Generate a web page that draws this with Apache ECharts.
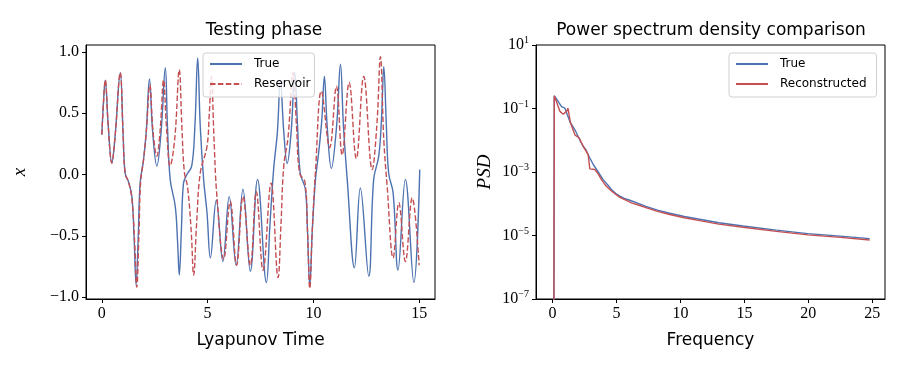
<!DOCTYPE html>
<html>
<head>
<meta charset="utf-8">
<script src="https://cdn.jsdelivr.net/npm/echarts@6.0.0/dist/echarts.min.js"></script>
<style>
  html, body { margin: 0; padding: 0; background: #fff; }
  #chart { width: 897px; height: 365px; }
</style>
</head>
<body>
<div id="chart"></div>
<script>
// left panel: x(t) in Lyapunov times
const trueSeries = [
  [0, 0.325], [0.08, 0.6], [0.16, 0.77], [0.3, 0.4], [0.47, 0.094], [0.62, 0.3], [0.87, 0.83],
  [1.0, 0.35], [1.1, 0.01], [1.26, -0.06], [1.42, -0.18], [1.52, -0.5], [1.62, -0.9], [1.72, -0.5],
  [1.81, -0.07], [1.97, 0.12], [2.1, 0.35], [2.25, 0.78], [2.4, 0.35], [2.6, 0.07], [2.8, 0.35],
  [3.0, 0.87], [3.1, 0.4], [3.23, -0.04], [3.47, -0.26], [3.58, -0.55], [3.66, -0.82], [3.76, -0.45],
  [3.86, -0.07], [4.02, 0], [4.25, 0.07], [4.4, 0.4], [4.53, 0.95], [4.65, 0.4], [4.81, -0.04],
  [4.97, -0.31], [5.13, -0.68], [5.41, -0.21], [5.72, -0.71], [6.02, -0.18], [6.35, -0.74],
  [6.67, -0.12], [7.02, -0.79], [7.36, -0.04], [7.78, -0.88], [7.95, -0.4], [8.12, 0.04],
  [8.3, 0.35], [8.44, 0.77], [8.6, 0.35], [8.76, 0.09], [8.95, 0.35], [9.12, 0.83], [9.25, 0.4],
  [9.38, 0.01], [9.62, -0.12], [9.72, -0.45], [9.83, -0.91], [9.95, -0.45], [10.1, -0.04],
  [10.25, 0.18], [10.4, 0.45], [10.52, 0.8], [10.65, 0.4], [10.85, 0.05], [11.1, 0.4], [11.28, 0.9],
  [11.42, 0.4], [11.6, -0.04], [11.94, -0.76], [12.22, -0.11], [12.62, -0.83], [12.85, -0.04],
  [13.09, 0.15], [13.22, 0.45], [13.33, 0.88], [13.45, 0.4], [13.56, 0.01], [13.77, -0.15],
  [14.0, -0.78], [14.35, -0.04], [14.75, -0.88], [15.03, 0.04]
];
const reservoirSeries = [
  [0, 0.325], [0.08, 0.6], [0.16, 0.77], [0.3, 0.4], [0.47, 0.094], [0.62, 0.3], [0.87, 0.83],
  [1.0, 0.35], [1.1, 0.01], [1.26, -0.06], [1.42, -0.2], [1.55, -0.55], [1.65, -0.92], [1.75, -0.5],
  [1.83, -0.07], [1.97, 0.12], [2.1, 0.35], [2.27, 0.73], [2.42, 0.35], [2.6, 0.15], [2.75, 0.35],
  [2.92, 0.77], [3.05, 0.4], [3.23, 0.07], [3.45, 0.3], [3.66, 0.855], [3.78, 0.4], [3.9, 0.02],
  [4.05, -0.1], [4.22, -0.45], [4.34, -0.82], [4.48, -0.4], [4.65, 0.01], [4.97, 0.23], [5.08, 0.5],
  [5.18, 0.8], [5.3, 0.3], [5.44, -0.18], [5.76, -0.69], [6.07, -0.22], [6.37, -0.74], [6.67, -0.18],
  [7.02, -0.74], [7.3, -0.14], [7.62, -0.78], [8.0, -0.07], [8.33, -0.84], [8.47, -0.4], [8.6, 0.07],
  [8.8, 0.3], [9.04, 0.83], [9.2, 0.4], [9.35, 0.01], [9.6, -0.06], [9.72, -0.45], [9.83, -0.93],
  [9.95, -0.45], [10.1, 0.03], [10.38, 0.68], [10.77, 0.22], [11.09, 0.72], [11.36, 0.16],
  [11.69, 0.75], [12.03, 0.13], [12.38, 0.8], [12.78, 0.04], [13.0, 0.4], [13.17, 0.96], [13.33, 0.28],
  [13.49, -0.1], [13.77, -0.68], [14.04, -0.23], [14.35, -0.71], [14.67, -0.19], [15.0, -0.74]
];
const timeTicks = [0, 5, 10, 15];
const xTicks = [-1, -0.5, 0, 0.5, 1];

// right panel: [frequency, log10(PSD)]
const psdTrue = [
  [0, -30], [0.13, -0.6], [0.18, -0.57], [0.3, -0.7], [0.44, -0.78], [0.55, -0.8], [0.7, -0.94],
  [0.83, -0.96], [0.96, -0.99], [1.15, -1.2], [1.35, -1.41], [1.45, -1.38], [1.74, -1.67],
  [2.0, -1.88], [2.2, -2.05], [2.39, -2.19], [2.6, -2.3], [2.91, -2.56], [3.2, -2.78], [3.44, -2.92],
  [3.7, -3.08], [3.95, -3.24], [4.3, -3.4], [4.6, -3.55], [5.0, -3.7], [5.26, -3.76], [5.6, -3.83],
  [6.04, -3.89], [6.7, -3.99], [7.3, -4.08], [8.2, -4.2], [9.16, -4.3], [10.3, -4.4], [11.5, -4.49],
  [13.0, -4.6], [14.9, -4.7], [17.5, -4.83], [19.97, -4.94], [22.5, -5.02], [24.8, -5.1]
];
const psdReconstructed = [
  [0, -30], [0.13, -0.6], [0.18, -0.6], [0.4, -0.9], [0.57, -1.09], [0.83, -1.18], [1.09, -1.09],
  [1.2, -0.99], [1.4, -1.46], [1.74, -1.83], [2.08, -1.93], [2.39, -2.19], [2.78, -2.45], [2.91, -2.9],
  [3.3, -2.92], [3.55, -3.05], [3.82, -3.24], [4.2, -3.45], [4.6, -3.6], [5.26, -3.8], [5.6, -3.86],
  [6.17, -3.97], [6.7, -4.04], [7.3, -4.12], [8.2, -4.24], [9.16, -4.34], [10.3, -4.44],
  [11.5, -4.53], [13.0, -4.64], [14.9, -4.74], [17.5, -4.87], [19.97, -4.98], [22.5, -5.06],
  [24.8, -5.14]
];
const freqTicks = [0, 5, 10, 15, 20, 25];
const psdTicks = [-7, -5, -3, -1, 1];

const BLUE = '#4c72b0';
const RED = '#c44e52';
const SERIF = 'Liberation Serif';
const SANS = 'DejaVu Sans';

const fmtNum = (v) => (v < 0 ? '\u2212' : '') + Math.abs(v).toFixed(1);
const fmtPow = (v) => '{b|10}{s|' + (v < 0 ? '\u2212' : '') + Math.abs(v) + '}';

const axisBase = {
  axisLine: { show: true, onZero: false, lineStyle: { color: '#000', width: 1 } },
  axisTick: { show: true, inside: false, length: 4, lineStyle: { color: '#000', width: 1 } },
  splitLine: { show: false }
};

const legendBox = {
  orient: 'vertical',
  backgroundColor: 'rgba(255,255,255,0.8)',
  borderColor: '#d0d0d0',
  borderWidth: 1,
  borderRadius: 3,
  padding: [5, 4, 7, 6],
  itemGap: 8,
  itemWidth: 32,
  itemHeight: 10,
  itemStyle: { opacity: 0 },
  textStyle: { fontFamily: SANS, fontSize: 12, color: '#000', padding: [0, 0, 0, 7] }
};

const chart = echarts.init(document.getElementById('chart'), null, { renderer: 'canvas' });

chart.setOption({
  animation: false,
  backgroundColor: '#fff',
  title: [
    { text: 'Testing phase', left: 259, top: 17, textAlign: 'center',
      textStyle: { fontFamily: SANS, fontSize: 17, fontWeight: 'normal', color: '#000' } },
    { text: 'Power spectrum density comparison', left: 706, top: 17, textAlign: 'center',
      textStyle: { fontFamily: SANS, fontSize: 17, fontWeight: 'normal', color: '#000' } }
  ],
  legend: [
    { ...legendBox, data: ['True', 'Reservoir'], left: 203, top: 53 },
    { ...legendBox, data: ['True ', 'Reconstructed'], left: 729, top: 53, padding: [5, 10, 7, 6] }
  ],
  grid: [
    { left: 86, top: 45, width: 349, height: 254, show: true, borderColor: '#000', borderWidth: 1, backgroundColor: 'transparent' },
    { left: 536, top: 45, width: 349, height: 254, show: true, borderColor: '#000', borderWidth: 1, backgroundColor: 'transparent' }
  ],
  xAxis: [
    { ...axisBase, type: 'value', gridIndex: 0, min: -0.75, max: 15.75,
      name: 'Lyapunov Time', nameLocation: 'middle', nameGap: 33,
      nameTextStyle: { fontFamily: SANS, fontSize: 17, color: '#000' },
      axisTick: { ...axisBase.axisTick, customValues: timeTicks },
      axisLabel: { customValues: timeTicks, fontFamily: SERIF, fontSize: 16, color: '#000', margin: 7 } },
    { ...axisBase, type: 'value', gridIndex: 1, min: -1.3, max: 26,
      name: 'Frequency', nameLocation: 'middle', nameGap: 33,
      nameTextStyle: { fontFamily: SANS, fontSize: 17, color: '#000' },
      axisTick: { ...axisBase.axisTick, customValues: freqTicks },
      axisLabel: { customValues: freqTicks, fontFamily: SERIF, fontSize: 16, color: '#000', margin: 7 } }
  ],
  yAxis: [
    { ...axisBase, type: 'value', gridIndex: 0, min: -1.015, max: 1.056,
      name: 'x', nameLocation: 'middle', nameGap: 57, nameRotate: 90,
      nameTextStyle: { fontFamily: SERIF, fontStyle: 'italic', fontSize: 19, color: '#000' },
      axisTick: { ...axisBase.axisTick, customValues: xTicks },
      axisLabel: { customValues: xTicks, formatter: fmtNum, fontFamily: SERIF, fontSize: 16, color: '#000', margin: 7 } },
    { ...axisBase, type: 'value', gridIndex: 1, min: -7, max: 1,
      name: 'PSD', nameLocation: 'middle', nameGap: 42, nameRotate: 90,
      nameTextStyle: { fontFamily: SERIF, fontStyle: 'italic', fontSize: 19, color: '#000' },
      axisTick: { ...axisBase.axisTick, customValues: psdTicks },
      axisLabel: {
        customValues: psdTicks, formatter: fmtPow, margin: 7,
        rich: {
          b: { fontFamily: SERIF, fontSize: 16, color: '#000' },
          s: { fontFamily: SERIF, fontSize: 10, color: '#000', padding: [0, 0, 9, 0] }
        }
      } }
  ],
  series: [
    { name: 'True', type: 'line', xAxisIndex: 0, yAxisIndex: 0, data: trueSeries,
      symbol: 'none', smooth: 0.4, lineStyle: { color: BLUE, width: 1.4 }, itemStyle: { color: BLUE } },
    { name: 'Reservoir', type: 'line', xAxisIndex: 0, yAxisIndex: 0, data: reservoirSeries,
      symbol: 'none', smooth: 0.4, lineStyle: { color: RED, width: 1.4, type: [5.5, 2.4] }, itemStyle: { color: RED } },
    { name: 'True ', type: 'line', xAxisIndex: 1, yAxisIndex: 1, data: psdTrue,
      symbol: 'none', clip: true, lineStyle: { color: BLUE, width: 1.4 }, itemStyle: { color: BLUE } },
    { name: 'Reconstructed', type: 'line', xAxisIndex: 1, yAxisIndex: 1, data: psdReconstructed,
      symbol: 'none', clip: true, lineStyle: { color: RED, width: 1.4 }, itemStyle: { color: RED } }
  ]
});
</script>
</body>
</html>
